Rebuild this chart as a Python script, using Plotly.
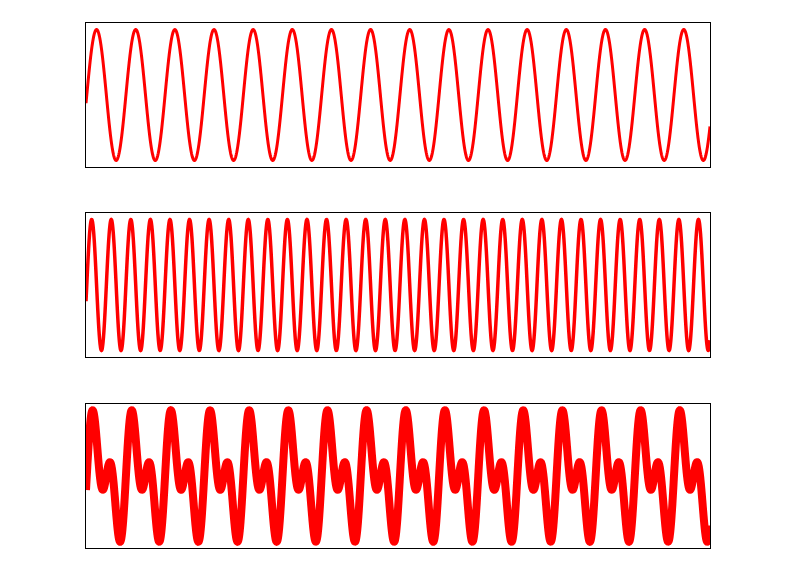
import numpy as np
import plotly.graph_objects as go
from plotly.subplots import make_subplots

# Parameters
n_samples = 4000
cycles_signal1 = 15.94      # cycles across the window (top panel)
cycles_signal2 = 31.88      # cycles across the window (middle panel)
start_phase_cycles = -0.02  # phase at the left edge, in cycles of signal 1
amp_signal1 = 1.0
amp_signal2 = 1.0

t = np.linspace(0.0, 1.0, n_samples)
signal1 = amp_signal1 * np.sin(2 * np.pi * (cycles_signal1 * t + start_phase_cycles))
signal2 = amp_signal2 * np.sin(2 * np.pi * (cycles_signal2 * t + 2 * start_phase_cycles))
signal_sum = signal1 + signal2

series = [signal1, signal2, signal_sum]
line_widths = [3, 3.5, 8]
y_ranges = [[-1.1, 1.1], [-1.1, 1.1], [-1.93, 1.93]]

fig = make_subplots(rows=3, cols=1, vertical_spacing=0.0)
for i, (ys, w) in enumerate(zip(series, line_widths), start=1):
    fig.add_trace(go.Scatter(x=t, y=ys, mode="lines",
                             line=dict(color="#FF0000", width=w, simplify=False),
                             showlegend=False, hoverinfo="skip"),
                  row=i, col=1)

domains = [[0.7257, 1.0], [0.3638, 0.6381], [0.0, 0.2743]]
for i in range(3):
    ax = "" if i == 0 else str(i + 1)
    fig.layout["xaxis" + ax].update(range=[0, 1], showgrid=False, zeroline=False,
                                    showticklabels=False, ticks="", showline=True,
                                    mirror=True, linecolor="black", linewidth=1)
    fig.layout["yaxis" + ax].update(range=y_ranges[i], domain=domains[i], showgrid=False,
                                    zeroline=False, showticklabels=False, ticks="",
                                    showline=True, mirror=True, linecolor="black",
                                    linewidth=1)

fig.update_layout(width=796, height=572, plot_bgcolor="white", paper_bgcolor="white",
                  margin=dict(l=78, r=94, t=15, b=32))
fig.write_html("out.html")
